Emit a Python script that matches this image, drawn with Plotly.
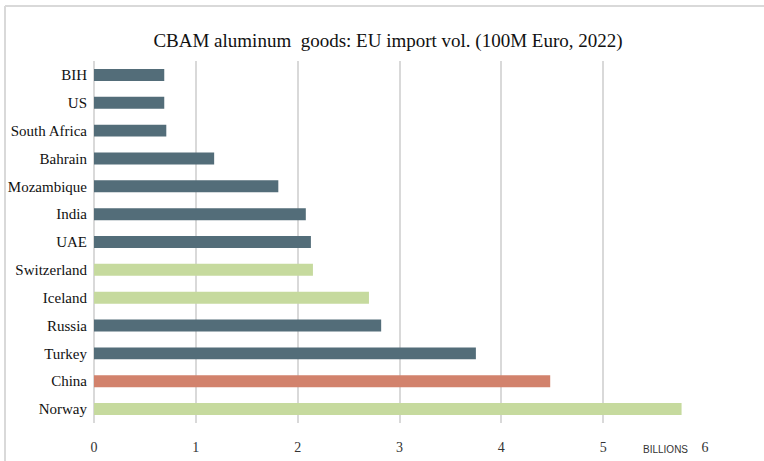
import plotly.graph_objects as go

countries = ["BIH", "US", "South Africa", "Bahrain", "Mozambique", "India", "UAE",
             "Switzerland", "Iceland", "Russia", "Turkey", "China", "Norway"]
values = [0.69, 0.69, 0.71, 1.18, 1.81, 2.08, 2.13, 2.15, 2.70, 2.82, 3.75, 4.48, 5.77]
groups = ["other", "other", "other", "other", "other", "other", "other",
          "efta", "efta", "other", "other", "china", "efta"]
palette = {"other": "#536d79", "efta": "#c6da9e", "china": "#d2826c"}
x_ticks = [0, 1, 2, 3, 4, 5, 6]

W, H = 764, 461
L, R, T, B = 94, 59, 61, 38
pw, ph = W - L - R, H - T - B

def px_x(p):
    return (p - L) / pw

def px_y(p):
    return 1 - (p - T) / ph

fig = go.Figure(go.Bar(
    x=values, y=countries, orientation="h",
    marker=dict(color=[palette[g] for g in groups], line=dict(width=0)),
    width=0.43,
))

fig.update_layout(
    width=W, height=H,
    margin=dict(l=L, r=R, t=T, b=B, autoexpand=False),
    paper_bgcolor="white", plot_bgcolor="white",
    showlegend=False,
    title=dict(text="CBAM aluminum  goods: EU import vol. (100M Euro, 2022)",
               x=px_x(388), xref="paper", xanchor="center",
               y=1 - 40 / H, yanchor="middle",
               font=dict(family="Liberation Serif", size=19, color="#111")),
    font=dict(family="Liberation Serif", color="#222"),
    xaxis=dict(range=[0, 6], tickvals=x_ticks, showgrid=True, gridcolor="#d9d9d9",
               gridwidth=1.5, zeroline=True, zerolinecolor="#d9d9d9", zerolinewidth=1.5,
               showline=False, ticks="", ticklabelstandoff=14, automargin=False,
               tickfont=dict(family="Liberation Serif", size=14, color="#333")),
    yaxis=dict(categoryorder="array", categoryarray=countries, range=[12.5, -0.5],
               showgrid=False, showline=False, ticks="", ticklabelstandoff=6,
               automargin=False,
               tickfont=dict(family="Liberation Serif", size=15, color="#111")),
    shapes=[
        dict(type="line", xref="paper", yref="paper", x0=px_x(5), x1=px_x(W + 5),
             y0=px_y(6), y1=px_y(6), line=dict(color="#d9d9d9", width=2)),
        dict(type="line", xref="paper", yref="paper", x0=px_x(5), x1=px_x(5),
             y0=px_y(6), y1=px_y(H + 5), line=dict(color="#d9d9d9", width=2)),
    ],
    annotations=[
        dict(text="BILLIONS", xref="paper", yref="paper", x=px_x(690), y=px_y(449),
             xanchor="right", yanchor="middle", showarrow=False,
             font=dict(family="Liberation Sans", size=10, color="#333")),
    ],
)

fig.write_html("out.html")
